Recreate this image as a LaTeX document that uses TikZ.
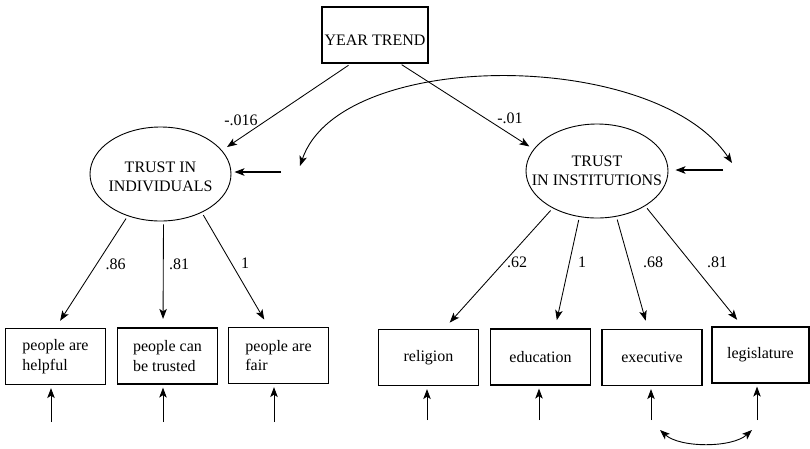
\documentclass[tikz,border=0pt]{standalone}
\usepackage{fontspec}
\setmainfont{Liberation Serif}
\usetikzlibrary{arrows.meta,shapes.geometric}

\begin{document}
\begin{tikzpicture}[x=1pt, y=1pt, >={Stealth[length=10pt,width=7.5pt,inset=2.5pt]},
  every node/.style={font=\fontsize{16}{19.5}\selectfont},
  obs/.style={draw, line width=1.2pt, minimum width=100pt, minimum height=56pt, inner sep=0pt, align=left},
  lat/.style={draw, ellipse, line width=0.9pt, minimum width=141pt, minimum height=94pt, inner sep=0pt},
  path/.style={->, line width=0.85pt},
  load/.style={->, line width=0.85pt, shorten <=3pt, shorten >=8.5pt}]
\useasboundingbox (0,0) rectangle (810,-448);
% exogenous trend and the two latent factors
\node[draw, line width=1.2pt, minimum width=106pt, minimum height=56pt, inner sep=0pt, text height=21pt, text depth=0pt] (year) at (375,-35) {YEAR TREND};
\node[lat, label={[align=center, font=\fontsize{16}{19.5}\selectfont, yshift=-3pt]center:TRUST IN\\INDIVIDUALS}] (ind) at (160.5,-174) {};
\node[lat, minimum width=142pt, label={[align=center, font=\fontsize{16}{19.5}\selectfont]center:TRUST\\IN INSTITUTIONS}] (ins) at (597,-171) {};
% indicators
\node[obs] (helpful) at (55.5,-356.5) {people are\\helpful};
\node[obs] (trusted) at (167.5,-356) {people can\\be trusted};
\node[obs] (fair) at (278.5,-355.5) {people are\\fair};
\node[obs] (religion) at (428.5,-357.5) {religion};
\node[obs] (education) at (540.5,-357) {education};
\node[obs] (executive) at (652,-357.5) {executive};
\node[obs, minimum width=97pt] (legislature) at (760.5,-355) {legislature};
% trend paths
\draw[path, shorten <=3pt, shorten >=6pt] ([xshift=-24pt]year.south) -- (ind.21);
\draw[path, shorten <=2pt, shorten >=5pt] ([xshift=25pt]year.south) -- (ins.161);
\node (b1) at (241,-120) {-.016};
\node (b2) at (510,-118) {-.01};
% loadings
\draw[load] (ind.-128) -- (helpful.north);
\draw[load] ([xshift=3pt]ind.south) -- ([xshift=-4.5pt]trusted.north);
\draw[load] (ind.-43) -- ([xshift=-10pt]fair.north);
\draw[load] (ins.-140) -- ([xshift=15.5pt]religion.north);
\draw[load] (ins.-111) -- ([xshift=14.5pt]education.north);
\draw[load] (ins.-67) -- ([xshift=-4pt]executive.north);
\draw[load] (ins.-36) -- ([xshift=-18pt]legislature.north);
\node (w1) at (115.5,-264.5) {.86};
\node (w2) at (179,-264) {.81};
\node (w3) at (245,-263) {1};
\node (w4) at (517,-262.5) {.62};
\node (w5) at (582,-262) {1};
\node (w6) at (653,-262) {.68};
\node (w7) at (717,-262) {.81};
% disturbances and their covariance
\coordinate (dl) at (281,-172);
\coordinate (dr) at (723,-170);
\draw[->, line width=1.5pt, shorten >=3pt] (dl) -- (dl -| ind.east);
\draw[->, line width=1.5pt, shorten >=7pt] (dr) -- (dr -| ins.east);
\coordinate (covl) at (300,-166);
\coordinate (covr) at (732,-163);
\draw[<->, line width=0.9pt] (covl) .. controls (340,-48) and (655,-48) .. (covr);
% measurement errors
\foreach \nm/\px/\py in {helpful/51/422, trusted/163/422, fair/274/422, religion/427/420, education/539/420, executive/651/420, legislature/757/420} {
  \coordinate (u-\nm) at (\px,-\py);
  \draw[path, shorten >=3pt] (u-\nm) -- (u-\nm |- \nm.south);
}
\coordinate (c1) at (660,-430);
\coordinate (c2) at (752,-430);
\draw[<->, line width=0.9pt] (c1) .. controls (680,-448) and (732,-448) .. (c2);
\end{tikzpicture}
\end{document}
